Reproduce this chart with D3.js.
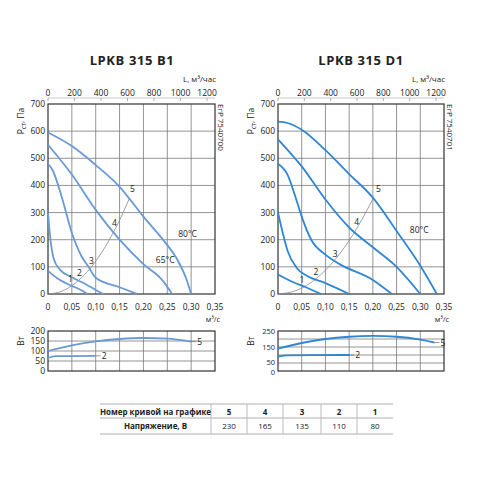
<!DOCTYPE html>
<html>
<head>
<meta charset="utf-8">
<script src="https://cdn.jsdelivr.net/npm/d3@7"></script>
<style>
  body { margin: 0; background: #fff; }
  text { font-family: "Open Sans", sans-serif; fill: #222; }
</style>
</head>
<body>
<script>
// ---- data (q in m3/s, p in Pa, power in W) ----
var xTicks = [0, 0.05, 0.1, 0.15, 0.2, 0.25, 0.3, 0.35];
var xTickLabels = ["0", "0,05", "0,10", "0,15", "0,20", "0,25", "0,30", "0,35"];
var topTicks = [0, 200, 400, 600, 800, 1000, 1200];
var pTicks = [0, 100, 200, 300, 400, 500, 600, 700];

var b1Curve5 = [[0, 595], [0.05, 545], [0.1, 475], [0.15, 395], [0.2, 285], [0.25, 180], [0.27, 130], [0.29, 55], [0.3, 0]];
var b1Curve4 = [[0, 550], [0.05, 440], [0.1, 310], [0.15, 200], [0.2, 110], [0.24, 50], [0.26, 0]];
var b1Curve3 = [[0, 480], [0.01, 455], [0.03, 350], [0.05, 225], [0.07, 140], [0.085, 100], [0.1, 60], [0.15, 25], [0.187, 0]];
var b1Curve2 = [[0, 300], [0.004, 220], [0.012, 130], [0.025, 90], [0.05, 62], [0.08, 35], [0.1, 15], [0.116, 0]];
var b1Curve1 = [[0, 85], [0.02, 57], [0.05, 30], [0.07, 14], [0.083, 0]];
var b1System = [[0, 0], [0.03, 11], [0.06, 44], [0.09, 98], [0.12, 174], [0.15, 272], [0.17, 350]];
var b1Labels = [["1", 0.042, 45], ["2", 0.061, 68], ["3", 0.086, 110], ["4", 0.134, 252], ["5", 0.172, 376], ["80°C", 0.273, 210], ["65°C", 0.226, 114]];
var b1Power5 = [[0, 100], [0.05, 128], [0.1, 148], [0.15, 160], [0.2, 165], [0.25, 162], [0.3, 147]];
var b1Power2 = [[0, 65], [0.015, 74], [0.1, 76]];
var b1PowerTicks = [0, 50, 100, 150, 200];
var b1PowerGrid = [50, 100, 150];

var d1Curve5 = [[0, 635], [0.02, 630], [0.05, 605], [0.1, 530], [0.15, 442], [0.2, 355], [0.25, 232], [0.3, 104], [0.335, 0]];
var d1Curve4 = [[0, 570], [0.05, 470], [0.1, 348], [0.15, 245], [0.2, 172], [0.25, 100], [0.3, 0]];
var d1Curve3 = [[0, 480], [0.02, 440], [0.04, 340], [0.05, 285], [0.07, 200], [0.1, 145], [0.13, 110], [0.2, 52], [0.24, 0]];
var d1Curve2 = [[0, 300], [0.01, 225], [0.02, 160], [0.04, 95], [0.06, 68], [0.1, 40], [0.15, 0]];
var d1Curve1 = [[0, 72], [0.03, 45], [0.06, 24], [0.091, 0]];
var d1System = [[0, 0], [0.04, 14], [0.08, 56], [0.12, 126], [0.16, 224], [0.2, 350]];
var d1Labels = [["1", 0.0455, 42], ["2", 0.075, 70], ["3", 0.1155, 135], ["4", 0.161, 255], ["5", 0.2065, 376], ["80°C", 0.278, 225]];
var d1Power5 = [[0, 140], [0.05, 175], [0.1, 200], [0.15, 214], [0.2, 219], [0.25, 214], [0.3, 196], [0.33, 178]];
var d1Power2 = [[0, 90], [0.02, 98], [0.15, 100]];
var d1PowerTicks = [0, 50, 150, 250];
var d1PowerGrid = [50, 100, 150, 200];

var tableHead = ["Номер кривой на графике", "5", "4", "3", "2", "1"];
var tableRow = ["Напряжение, В", "230", "165", "135", "110", "80"];

var svg = d3.select("body").append("svg")
  .attr("width", 480)
  .attr("height", 480);

function drawPanel(o) {
  var x = d3.scaleLinear().domain([0, 0.35]).range([o.x0, o.x1]);
  var xL = d3.scaleLinear().domain([0, 1260]).range([o.x0, o.x1]);
  var y = d3.scaleLinear().domain([0, 700]).range([294, 104]);
  var yW = d3.scaleLinear().domain([0, o.pMax]).range([371, 331]);
  var g = svg.append("g");

  g.append("text").attr("x", o.titleX).attr("y", 65)
    .attr("text-anchor", "middle").style("font-weight", "bold")
    .style("font-size", "13px").style("letter-spacing", "0.6px").text(o.title);

  // grid
  g.append("g").selectAll("line").data(xTicks.slice(1, -1)).enter().append("line")
    .attr("x1", function(d) { return x(d); }).attr("x2", function(d) { return x(d); })
    .attr("y1", y(0)).attr("y2", y(700)).style("stroke", "#7a7a7a").style("stroke-width", 0.8);
  g.append("g").selectAll("line").data(pTicks.slice(1, -1)).enter().append("line")
    .attr("x1", o.x0).attr("x2", o.x1)
    .attr("y1", function(d) { return y(d); }).attr("y2", function(d) { return y(d); })
    .style("stroke", "#7a7a7a").style("stroke-width", 0.8);
  g.append("rect").attr("x", o.x0).attr("y", y(700)).attr("width", o.x1 - o.x0).attr("height", y(0) - y(700))
    .style("fill", "none").style("stroke", "#333").style("stroke-width", 1.2);

  // top axis (m3/h)
  g.append("line").attr("x1", o.x0).attr("x2", o.x1).attr("y1", 98).attr("y2", 98)
    .style("stroke", "#bbb").style("stroke-width", 0.8);
  g.append("g").selectAll("line").data(topTicks).enter().append("line")
    .attr("x1", function(d) { return xL(d); }).attr("x2", function(d) { return xL(d); })
    .attr("y1", 98).attr("y2", 101).style("stroke", "#999").style("stroke-width", 0.8);
  g.append("g").selectAll("text").data(topTicks).enter().append("text")
    .attr("x", function(d) { return xL(d); }).attr("y", 96).attr("text-anchor", "middle")
    .style("font-size", "8.5px").text(function(d) { return d; });
  g.append("text").attr("x", o.x1 + 1).attr("y", 82).attr("text-anchor", "end")
    .style("font-size", "8px").text("L, м³/час");

  // bottom axis
  g.append("g").selectAll("text").data(xTicks).enter().append("text")
    .attr("x", function(d) { return x(d); }).attr("y", 310).attr("text-anchor", "middle")
    .style("font-size", "8.5px").text(function(d, i) { return xTickLabels[i]; });
  g.append("text").attr("x", o.x1 - 2).attr("y", 322).attr("text-anchor", "middle")
    .style("font-size", "7.5px").text("м³/с");

  // y axis
  g.append("g").selectAll("text").data(pTicks).enter().append("text")
    .attr("x", o.x0 - 3).attr("y", function(d) { return y(d) + 3; }).attr("text-anchor", "end")
    .style("font-size", "8.5px").text(function(d) { return d; });
  var yl = g.append("text").attr("transform", "translate(" + (o.x0 - 24) + ",121) rotate(-90)")
    .attr("text-anchor", "middle").style("font-size", "8.5px");
  yl.append("tspan").text("Р");
  yl.append("tspan").attr("dy", 2).style("font-size", "6.5px").text("ст");
  yl.append("tspan").attr("dy", -2).text(", Па");
  g.append("text").attr("transform", "translate(" + (o.x1 + 3) + ",104) rotate(90)")
    .style("font-size", "8px").text(o.code);

  var line = d3.line()
    .x(function(d) { return x(d[0]); })
    .y(function(d) { return y(d[1]); })
    .curve(d3.curveMonotoneX);

  g.append("path").datum(o.system).attr("d", line)
    .style("fill", "none").style("stroke", "#888").style("stroke-width", 0.8);
  o.curves.forEach(function(c) {
    g.append("path").datum(c).attr("d", line)
      .style("fill", "none").style("stroke", o.color).style("stroke-width", 1.8);
  });
  g.append("g").selectAll("text").data(o.labels).enter().append("text")
    .attr("x", function(d) { return x(d[1]); }).attr("y", function(d) { return y(d[2]); })
    .style("font-size", "8.5px").text(function(d) { return d[0]; });

  // power panel
  g.append("g").selectAll("line").data(xTicks.slice(1, -1)).enter().append("line")
    .attr("x1", function(d) { return x(d); }).attr("x2", function(d) { return x(d); })
    .attr("y1", yW(0)).attr("y2", yW(o.pMax)).style("stroke", "#7a7a7a").style("stroke-width", 0.8);
  g.append("g").selectAll("line").data(o.pGrid).enter().append("line")
    .attr("x1", o.x0).attr("x2", o.x1)
    .attr("y1", function(d) { return yW(d); }).attr("y2", function(d) { return yW(d); })
    .style("stroke", "#7a7a7a").style("stroke-width", 0.8);
  g.append("rect").attr("x", o.x0).attr("y", yW(o.pMax)).attr("width", o.x1 - o.x0).attr("height", yW(0) - yW(o.pMax))
    .style("fill", "none").style("stroke", "#333").style("stroke-width", 1.2);
  var tight = o.pMax > 200;
  g.append("g").selectAll("text").data(o.pTicks).enter().append("text")
    .attr("x", o.x0 - 3)
    .attr("y", function(d) { return yW(d) + (tight ? (d === 0 ? 4 : d === 50 ? 1.5 : 2.5) : 3); })
    .attr("text-anchor", "end")
    .style("font-size", tight ? "7.5px" : "8.5px").text(function(d) { return d; });
  g.append("text").attr("transform", "translate(" + (o.x0 - 24) + ",341) rotate(-90)")
    .attr("text-anchor", "middle").style("font-size", "8.5px").text("Вт");

  var lineW = d3.line()
    .x(function(d) { return x(d[0]); })
    .y(function(d) { return yW(d[1]); })
    .curve(d3.curveMonotoneX);
  [o.power5, o.power2].forEach(function(c, i) {
    g.append("path").datum(c).attr("d", lineW)
      .style("fill", "none").style("stroke", o.color).style("stroke-width", 1.8);
    var last = c[c.length - 1];
    g.append("line").attr("x1", x(last[0])).attr("x2", x(last[0]) + 5)
      .attr("y1", yW(last[1])).attr("y2", yW(last[1])).style("stroke", "#555").style("stroke-width", 0.6);
    g.append("text").attr("x", x(last[0]) + 6).attr("y", yW(last[1]) + 3)
      .style("font-size", "8.5px").text(i === 0 ? "5" : "2");
  });
}

drawPanel({
  title: "LPKB 315 B1", code: "ЕгР 7540700", x0: 48, x1: 215, titleX: 132, color: "#6a9ad6",
  curves: [b1Curve5, b1Curve4, b1Curve3, b1Curve2, b1Curve1], system: b1System, labels: b1Labels,
  power5: b1Power5, power2: b1Power2, pMax: 200, pTicks: b1PowerTicks, pGrid: b1PowerGrid
});
drawPanel({
  title: "LPKB 315 D1", code: "ЕгР 7540701", x0: 278, x1: 444, titleX: 361, color: "#2f86d2",
  curves: [d1Curve5, d1Curve4, d1Curve3, d1Curve2, d1Curve1], system: d1System, labels: d1Labels,
  power5: d1Power5, power2: d1Power2, pMax: 250, pTicks: d1PowerTicks, pGrid: d1PowerGrid
});

// table
var colX = [100, 211, 247, 283, 321, 357, 393];
var rowY = [404, 418, 434];
var t = svg.append("g");
[rowY[0], rowY[1], rowY[2]].forEach(function(yy) {
  t.append("line").attr("x1", colX[0]).attr("x2", colX[6]).attr("y1", yy).attr("y2", yy)
    .style("stroke", "#999").style("stroke-width", 0.8);
});
colX.slice(1, -1).forEach(function(xx) {
  t.append("line").attr("x1", xx).attr("x2", xx).attr("y1", rowY[0]).attr("y2", rowY[2])
    .style("stroke", "#bbb").style("stroke-width", 1);
});
[tableHead, tableRow].forEach(function(row, r) {
  row.forEach(function(cell, i) {
    t.append("text").attr("x", (colX[i] + colX[i + 1]) / 2).attr("y", rowY[r] + 10.5)
      .attr("text-anchor", "middle")
      .style("font-size", "8px")
      .style("font-weight", (r === 0 || i === 0) ? "bold" : "normal")
      .text(cell);
  });
});
</script>
</body>
</html>
